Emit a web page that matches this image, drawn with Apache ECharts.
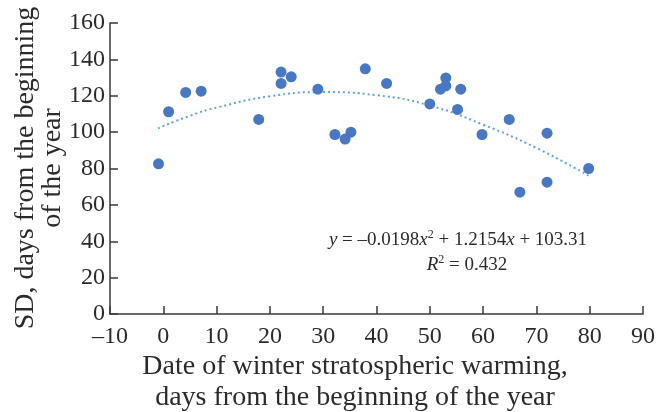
<!DOCTYPE html>
<html>
<head>
<meta charset="utf-8">
<script src="https://cdn.jsdelivr.net/npm/echarts@6/dist/echarts.min.js"></script>
<style>
  html, body { margin: 0; padding: 0; background: #fff; }
  #chart { width: 669px; height: 412px; }
</style>
</head>
<body>
<div id="chart"></div>
<script>
// warming date (x) and SD (y)
var warmDays = [-0.9, 1.0, 4.2, 7.1, 17.9, 22.1, 22.1, 24.0, 29.0, 32.2, 34.1, 35.2, 37.9, 41.9,
  50.0, 52.0, 53.0, 53.0, 55.2, 55.8, 59.8, 64.9, 66.9, 72.0, 72.0, 79.8];
var sdDays = [82.6, 111.2, 121.8, 122.5, 107.0, 133.0, 126.8, 130.4, 123.6, 98.7, 96.2, 100.0, 134.8, 126.8,
  115.5, 123.6, 129.8, 125.4, 112.5, 123.6, 98.7, 107.0, 67.0, 99.4, 72.5, 80.0];

// polynomial trendline
var trendX = [-1, 5, 10, 20, 30, 40, 50, 60, 70, 80];
var trendY = [102.1, 109.0, 113.5, 119.7, 122.0, 120.3, 114.6, 104.1, 91.3, 75.7];

var xTicks = [-10, 90, 10];
var yTicks = [0, 160, 20];

var font = '"Liberation Serif", "Times New Roman", serif';
var ink = '#2b2b2b';
var axisCol = '#3a3a3a';

var points = warmDays.map(function (x, i) { return [x, sdDays[i]]; });
var trend = trendX.map(function (x, i) { return [x, trendY[i]]; });

var chart = echarts.init(document.getElementById('chart'));

chart.setOption({
  animation: false,
  backgroundColor: '#fff',
  grid: { left: 110, right: 26, top: 23, bottom: 98 },
  xAxis: {
    type: 'value',
    min: xTicks[0],
    max: xTicks[1],
    interval: xTicks[2],
    splitLine: { show: false },
    axisLine: { show: true, onZero: false, lineStyle: { color: axisCol, width: 1.5 } },
    axisTick: { show: true, inside: true, length: 8, lineStyle: { color: axisCol, width: 1.5 } },
    axisLabel: {
      color: ink, fontFamily: font, fontSize: 24, margin: 11,
      formatter: function (v) { return String(v).replace('-', '–'); }
    }
  },
  yAxis: {
    type: 'value',
    min: yTicks[0],
    max: yTicks[1],
    interval: yTicks[2],
    splitLine: { show: false },
    axisLine: { show: true, onZero: false, lineStyle: { color: axisCol, width: 1.5 } },
    axisTick: { show: true, inside: true, length: 8, lineStyle: { color: axisCol, width: 1.5 } },
    axisLabel: { color: ink, fontFamily: font, fontSize: 24, margin: 5 }
  },
  series: [
    {
      type: 'line',
      data: trend,
      smooth: true,
      showSymbol: false,
      lineStyle: { color: '#5fa3dd', width: 2, type: [2, 3] },
      z: 1
    },
    {
      type: 'scatter',
      data: points,
      symbolSize: 11,
      itemStyle: { color: '#4878c2', opacity: 1 },
      z: 2
    }
  ],
  graphic: [
    {
      type: 'text', x: 355, y: 382,
      style: {
        text: 'Date of winter stratospheric warming,\ndays from the beginning of the year',
        font: '28px ' + font, fill: ink, align: 'center', verticalAlign: 'middle', lineHeight: 31
      }
    },
    {
      type: 'text', x: 39, y: 168, rotation: Math.PI / 2,
      style: {
        text: 'SD, days from the beginning\nof the year',
        font: '28px ' + font, fill: ink, align: 'center', verticalAlign: 'middle', lineHeight: 27
      }
    },
    {
      type: 'text', x: 458, y: 240,
      style: {
        text: '{i|y} = –0.0198{i|x}{s|2} + 1.2154{i|x} + 103.31',
        font: '19px ' + font, fill: ink, align: 'center', verticalAlign: 'middle',
        rich: {
          i: { fontStyle: 'italic', fontFamily: font, fontSize: 19, fill: ink },
          s: { fontFamily: font, fontSize: 12, verticalAlign: 'bottom', padding: [0, 0, 10, 0], fill: ink }
        }
      }
    },
    {
      type: 'text', x: 467, y: 265,
      style: {
        text: '{i|R}{s|2} = 0.432',
        font: '19px ' + font, fill: ink, align: 'center', verticalAlign: 'middle',
        rich: {
          i: { fontStyle: 'italic', fontFamily: font, fontSize: 19, fill: ink },
          s: { fontFamily: font, fontSize: 12, verticalAlign: 'bottom', padding: [0, 0, 10, 0], fill: ink }
        }
      }
    }
  ]
});
</script>
</body>
</html>
